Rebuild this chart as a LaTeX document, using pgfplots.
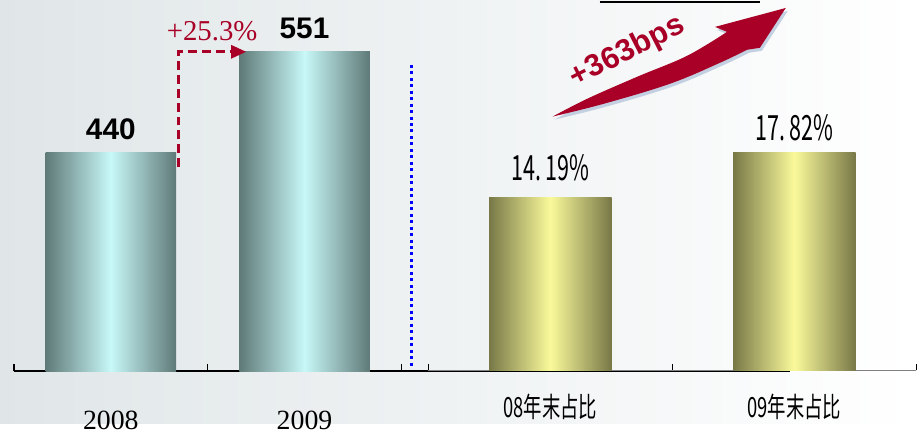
\documentclass[border=0pt]{standalone}
\usepackage{pgfplots}
\pgfplotsset{compat=1.18}
\usepackage{fontspec}
\setmainfont{Liberation Serif}
\newfontfamily\arial{Liberation Sans}
\newfontfamily\cjk{Noto Sans CJK SC}
\definecolor{tealdark}{RGB}{95,122,120}
\definecolor{teallight}{RGB}{200,248,248}
\definecolor{olivedark}{RGB}{120,120,72}
\definecolor{olivelight}{RGB}{250,250,155}
\definecolor{darkred}{RGB}{168,0,38}
\definecolor{bgleft}{RGB}{224,230,232}
\definecolor{shadowblue}{RGB}{195,208,225}
\newcommand{\cond}[2]{\scalebox{#1}[1]{#2}}
\pgfplotsset{
  tealbar/.style={ybar, bar shift=0pt, bar width=0.6735, draw=none,
    left color=tealdark, right color=tealdark, middle color=teallight,
    nodes near coords style={font=\arial\bfseries\fontsize{30}{30}\selectfont, anchor=south, inner sep=0pt, yshift=13bp, text=black}},
  olivebar/.style={ybar, bar shift=0pt, bar width=0.502, draw=none,
    left color=olivedark, right color=olivedark, middle color=olivelight},
}
\begin{document}
\begin{tikzpicture}
\begin{scope}[x=1bp,y=1bp]
\useasboundingbox (0,0) rectangle (917,425);
\fill[left color=bgleft, right color=white] (0,0) rectangle (917,425);
\end{scope}
% ---------- left chart ----------
\begin{axis}[
  at={(14bp,52bp)}, anchor=south west, scale only axis,
  width=779bp, height=347.8bp,
  xmin=-0.5, xmax=3.505, ymin=200, ymax=580,
  axis y line=none, axis x line*=bottom,
  x axis line style={line width=2bp, black},
  xtick={0,1}, xticklabels={2008,2009},
  major tick length=0pt,
  minor xtick={-0.5,0.5,1.5},
  minor tick length=8bp,
  tick align=inside,
  minor tick style={line width=1.5bp, black},
  xticklabel style={font=\fontsize{28}{28}\selectfont, anchor=north, inner sep=0pt, yshift=-40bp},
  clip=false,
]
\addplot[tealbar, nodes near coords={440}] coordinates {(0,440)};
\addplot[tealbar, nodes near coords={551}] coordinates {(1,551)};
\end{axis}
% ---------- right chart ----------
\begin{axis}[
  at={(430bp,53bp)}, anchor=south west, scale only axis,
  width=490bp, height=319bp,
  xmin=-0.5, xmax=1.5, ymin=0, ymax=26,
  axis y line=none, axis x line*=bottom,
  x axis line style={line width=1.5bp, gray},
  xtick={0,1}, xticklabels={\cond{0.66}{08年末占比},\cond{0.66}{09年末占比}},
  major tick length=0pt,
  minor xtick={-0.5,0.5,1.5},
  minor tick length=7bp,
  tick align=inside,
  minor tick style={line width=1.2bp, black},
  xticklabel style={font=\cjk\fontsize{28}{28}\selectfont, anchor=north, inner sep=0pt, yshift=-23bp},
  clip=false,
]
\addplot[olivebar,
  nodes near coords={\cond{0.62}{14.\hspace{0.18em}19\%}},
  nodes near coords style={font=\cjk\fontsize{35}{35}\selectfont, anchor=south, inner sep=0pt, yshift=16bp, text=black}]
  coordinates {(0,14.19)};
\addplot[olivebar,
  nodes near coords={\cond{0.62}{17.\hspace{0.18em}82\%}},
  nodes near coords style={font=\cjk\fontsize{35}{35}\selectfont, anchor=south, inner sep=0pt, yshift=11.5bp, text=black}]
  coordinates {(1,17.82)};
\end{axis}
% ---------- annotations ----------
\begin{scope}[x=1bp,y=1bp]
% blue dotted separator
\draw[blue, line width=3bp, dash pattern=on 3bp off 3.5bp] (413,360) -- (413,55);
% red dashed growth arrow
\draw[darkred, line width=3bp, dash pattern=on 9bp off 5bp] (179,257) -- (179,373) -- (232,373);
\fill[darkred] (232,380) -- (247,373) -- (232,366) -- cycle;
\node[text=darkred, font=\fontsize{29}{29}\selectfont] at (213,394) {+25.3\%};
% top underline (cut-off title)
\draw[black, line width=1.5bp] (602,423) -- (763,423);
% big swoosh arrow: shadow then body
\begin{scope}[shift={(2,-3)}]
\fill[shadowblue] plot[smooth, tension=0.6] coordinates {(555,308) (607,321) (673,341) (723,362) (750,375)} -- (763,377) -- (789,417) -- (718,398) -- plot[smooth, tension=0.6] coordinates {(730,393) (690,369) (640,348) (590,326) (555,308)} -- cycle;
\end{scope}
\fill[darkred] plot[smooth, tension=0.6] coordinates {(555,308) (607,321) (673,341) (723,362) (750,375)} -- (763,377) -- (789,417) -- (718,398) -- plot[smooth, tension=0.6] coordinates {(730,393) (690,369) (640,348) (590,326) (555,308)} -- cycle;
\node[text=darkred, font=\arial\bfseries\fontsize{31}{31}\selectfont, rotate=27] at (630,373) {+363bps};
\end{scope}
\end{tikzpicture}
\end{document}
